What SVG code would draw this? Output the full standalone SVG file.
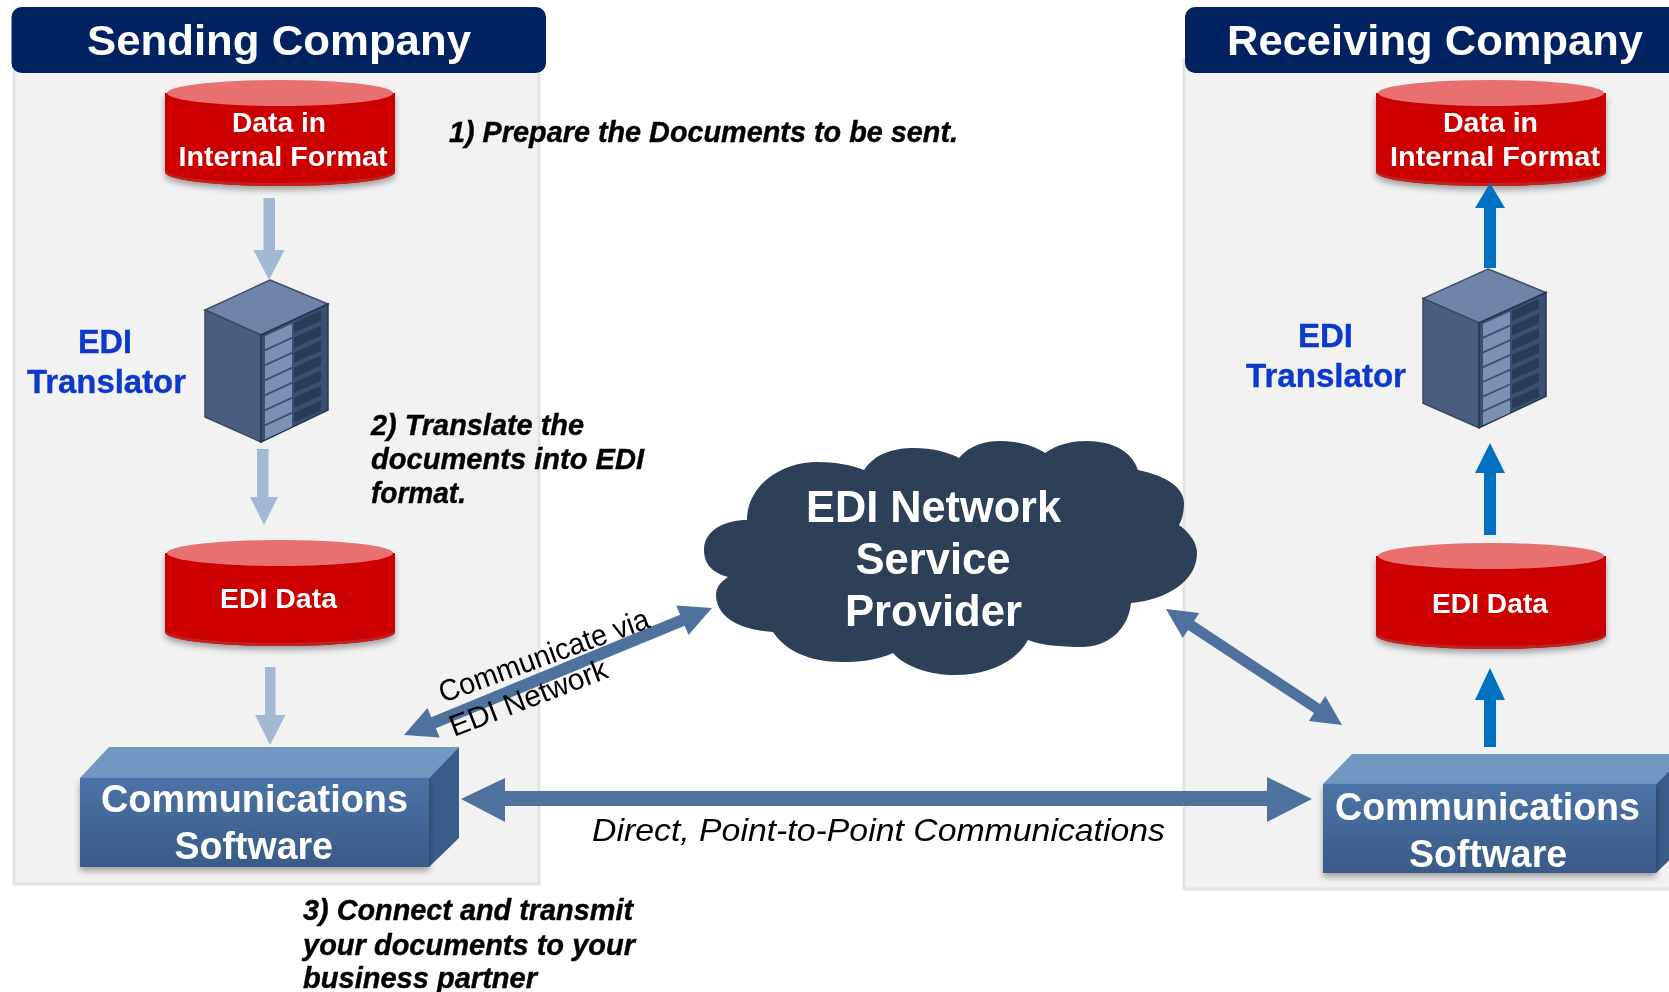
<svg xmlns="http://www.w3.org/2000/svg" xmlns:xlink="http://www.w3.org/1999/xlink" width="1669" height="992" viewBox="0 0 1669 992">
<style>
text{font-family:"Liberation Sans",Arial,sans-serif}
.panel{fill:#f2f2f2;stroke:#e3e3e3;stroke-width:3}
.hdr{fill:#002060}
.ht{font-size:43px;font-weight:700;fill:#fff}
.ct{font-size:28px;font-weight:700;fill:#fff}
.tr{font-size:34px;font-weight:700;fill:#0c38cc;stroke:#0c38cc;stroke-width:.4}
.box{font-size:38px;font-weight:700;fill:#fff}
.cl{font-size:45px;font-weight:700;fill:#fff}
.st{font-size:29px;font-weight:700;font-style:italic;fill:#000;stroke:#000;stroke-width:.4}
.dl{font-size:30px;fill:#000}
.dd{font-size:32px;font-style:italic;fill:#000}
.pale{fill:#a2b8d3}
.blue{fill:#0070c0}
.dbl{fill:#50719d}
</style>
<defs>
<filter id="soft" x="0" y="0" width="100%" height="100%" filterUnits="userSpaceOnUse"><feGaussianBlur stdDeviation="0.55"/></filter>
<filter id="sh" x="-10%" y="-10%" width="120%" height="130%"><feDropShadow dx="0" dy="4" stdDeviation="3" flood-color="#000" flood-opacity=".35"/></filter>
<linearGradient id="bf" x1="0" y1="0" x2="0" y2="1"><stop offset="0" stop-color="#4c73a6"/><stop offset="1" stop-color="#3a5a88"/></linearGradient>
<g id="cyl">
<path d="M0 13V92C0 100 50 106 115 106S230 100 230 92V13Z" fill="#cc0000" filter="url(#sh)"/>
<path d="M0 92C0 100 50 106 115 106S230 100 230 92V90C230 98 170 103 115 103S0 98 0 90Z" fill="#c02020"/>
<ellipse cx="115" cy="13" rx="113" ry="13" fill="#e87070"/>
</g>
<g id="srv">
<polygon points="65,0 123,24 56,55 0,30" fill="#7084a9" stroke="#3f4f6a" stroke-width="1.5"/>
<polygon points="0,30 56,55 56,162 0,137" fill="#4b5d7e" stroke="#3a4860" stroke-width="1.5"/>
<polygon points="56,55 123,24 123,130 56,162" fill="#3a4f75" stroke="#27344c" stroke-width="1.5"/>
<g transform="matrix(1 -.46 0 1 56 55)">
<g fill="#7c90b4"><rect x="4" y="3" width="27" height="13"/><rect x="4" y="18" width="27" height="13"/><rect x="4" y="33" width="27" height="13"/><rect x="4" y="48" width="27" height="13"/><rect x="4" y="63" width="27" height="13"/><rect x="4" y="78" width="27" height="13"/><rect x="4" y="93" width="27" height="13"/></g>
<g fill="#2b3a55"><rect x="33" y="3" width="27" height="10"/><rect x="33" y="18" width="27" height="10"/><rect x="33" y="33" width="27" height="10"/><rect x="33" y="48" width="27" height="10"/><rect x="33" y="63" width="27" height="10"/><rect x="33" y="78" width="27" height="10"/><rect x="33" y="93" width="27" height="10"/></g>
</g>
</g>
</defs>
<g filter="url(#soft)">
<rect width="1669" height="992" fill="#fff"/>
<g id="sending-panel">
<rect class="panel" x="14" y="60" width="525" height="824"/>
<rect class="hdr" x="11.500" y="7" width="534.500" height="66" rx="10"/>
<text class="ht" x="87" y="55" textLength="384" lengthAdjust="spacingAndGlyphs">Sending Company</text>
</g>
<g id="receiving-panel">
<rect class="panel" x="1184" y="60" width="500" height="829"/>
<rect class="hdr" x="1185" y="7" width="500" height="66" rx="10"/>
<text class="ht" x="1227" y="55" textLength="416" lengthAdjust="spacingAndGlyphs">Receiving Company</text>
</g>
<g id="s-data">
<use href="#cyl" x="165" y="80"/>
<text class="ct" x="232" y="132" textLength="94" lengthAdjust="spacingAndGlyphs">Data in</text>
<text class="ct" x="178.500" y="166" textLength="209" lengthAdjust="spacingAndGlyphs">Internal Format</text>
</g>
<g id="s-translator">
<use href="#srv" x="205" y="280"/>
<text class="tr" x="78" y="353" textLength="54" lengthAdjust="spacingAndGlyphs">EDI</text>
<text class="tr" x="27" y="393" textLength="159" lengthAdjust="spacingAndGlyphs">Translator</text>
</g>
<g id="s-edi">
<use href="#cyl" x="165" y="540"/>
<text class="ct" x="220" y="608" textLength="117" lengthAdjust="spacingAndGlyphs">EDI Data</text>
</g>
<g id="s-comm">
<polygon points="80,778 109,747 459,747 429,778" fill="#7297c0"/>
<polygon points="429,778 459,747 459,838 429,867" fill="#3a5b88"/>
<rect x="80" y="778" width="349" height="89" fill="url(#bf)" filter="url(#sh)"/>
<text class="box" x="101" y="812" textLength="307" lengthAdjust="spacingAndGlyphs">Communications</text>
<text class="box" x="174.500" y="859" textLength="158.500" lengthAdjust="spacingAndGlyphs">Software</text>
</g>
<g id="r-data">
<use href="#cyl" x="1376" y="80"/>
<text class="ct" x="1443" y="132" textLength="95" lengthAdjust="spacingAndGlyphs">Data in</text>
<text class="ct" x="1390" y="166" textLength="210" lengthAdjust="spacingAndGlyphs">Internal Format</text>
</g>
<g id="r-translator">
<use href="#srv" transform="translate(1423 269) scale(1 .98)"/>
<text class="tr" x="1298" y="347" textLength="55" lengthAdjust="spacingAndGlyphs">EDI</text>
<text class="tr" x="1246" y="387" textLength="160" lengthAdjust="spacingAndGlyphs">Translator</text>
</g>
<g id="r-edi">
<use href="#cyl" x="1376" y="543"/>
<text class="ct" x="1432" y="613" textLength="116" lengthAdjust="spacingAndGlyphs">EDI Data</text>
</g>
<g id="r-comm">
<polygon points="1323,784 1352,754 1680,754 1680,760 1656,784" fill="#7297c0"/>
<polygon points="1656,784 1680,760 1680,850 1656,873" fill="#3a5b88"/>
<rect x="1323" y="784" width="333" height="89" fill="url(#bf)" filter="url(#sh)"/>
<text class="box" x="1335" y="820" textLength="305" lengthAdjust="spacingAndGlyphs">Communications</text>
<text class="box" x="1409" y="867" textLength="158" lengthAdjust="spacingAndGlyphs">Software</text>
</g>
<g id="cloud">
<path fill="#2e3f58" d="M728 577C710 572 704 562 704 550C704 530 725 520 747 520C747 486 780 462 818 462C835 462 852 465 864 470C875 453 895 448 914 448C932 448 948 452 959 458C970 445 985 441 1000 441C1020 441 1035 446 1045 453C1058 444 1072 441 1086 441C1114 441 1132 452 1138 470C1167 476 1184 488 1184 503C1184 512 1182 520 1179 525C1190 533 1197 543 1197 553C1197 582 1165 600 1131 603C1128 632 1105 647 1083 647C1060 647 1040 645 1028 640C1015 664 985 675 955 675C930 675 905 667 893 653C875 661 858 662 842 662C808 662 785 650 773 632C738 630 716 616 716 595C716 588 720 582 728 577Z"/>
<text class="cl" x="806" y="522" textLength="255" lengthAdjust="spacingAndGlyphs">EDI Network</text>
<text class="cl" x="855.500" y="574" textLength="155" lengthAdjust="spacingAndGlyphs">Service</text>
<text class="cl" x="845" y="626" textLength="177" lengthAdjust="spacingAndGlyphs">Provider</text>
</g>
<g id="notes">
<text class="st" x="449" y="141.500" textLength="509" lengthAdjust="spacingAndGlyphs">1) Prepare the Documents to be sent.</text>
<text class="st" x="371" y="435" textLength="213" lengthAdjust="spacingAndGlyphs">2) Translate the</text>
<text class="st" x="371" y="469" textLength="273" lengthAdjust="spacingAndGlyphs">documents into EDI</text>
<text class="st" x="371" y="503" textLength="95" lengthAdjust="spacingAndGlyphs">format.</text>
<text class="st" x="303" y="920" textLength="330" lengthAdjust="spacingAndGlyphs">3) Connect and transmit</text>
<text class="st" x="303" y="955" textLength="332" lengthAdjust="spacingAndGlyphs">your documents to your</text>
<text class="st" x="303" y="988" textLength="234" lengthAdjust="spacingAndGlyphs">business partner</text>
</g>
<g id="connectors">
<polygon class="pale" points="263.500,198 275,198 275,250 284.500,250 269,280 253.500,250 263.500,250"/>
<polygon class="pale" points="257,449 268.500,449 268.500,497 278,497 264,525 250,497 257,497"/>
<polygon class="pale" points="265,667 275.500,667 275.500,715 285.500,715 270,745 255,715 265,715"/>
<polygon class="blue" points="1484,268 1496,268 1496,208 1505,208 1490,183 1475,208 1484,208"/>
<polygon class="blue" points="1484,535 1496,535 1496,473 1505,473 1490,443 1475,473 1484,473"/>
<polygon class="blue" points="1484,747 1496,747 1496,700 1505,700 1490,668 1475,700 1484,700"/>
<polygon class="dbl" points="461,799 505,778 505,791 1267,791 1267,777 1312,799 1267,822 1267,806 505,806 505,822"/>
<polygon class="dbl" points="404,735 439.700,737.600 435.900,728.300 684.700,625.700 688.500,635 712,608 676.300,605.400 680.100,614.700 431.300,717.300 427.500,708"/>
<polygon class="dbl" points="1166,609 1199.300,613 1194,620.900 1320,703.900 1325.300,696 1342,725 1308.800,721 1314,713.100 1188,630.100 1182.800,638"/>
<text class="dl" transform="translate(443 703) rotate(-20)" textLength="222" lengthAdjust="spacingAndGlyphs">Communicate via</text>
<text class="dl" transform="translate(454 737) rotate(-21)" textLength="167" lengthAdjust="spacingAndGlyphs">EDI Network</text>
<text class="dd" x="592" y="841" textLength="573" lengthAdjust="spacingAndGlyphs">Direct, Point-to-Point Communications</text>
</g>
</g>
</svg>
